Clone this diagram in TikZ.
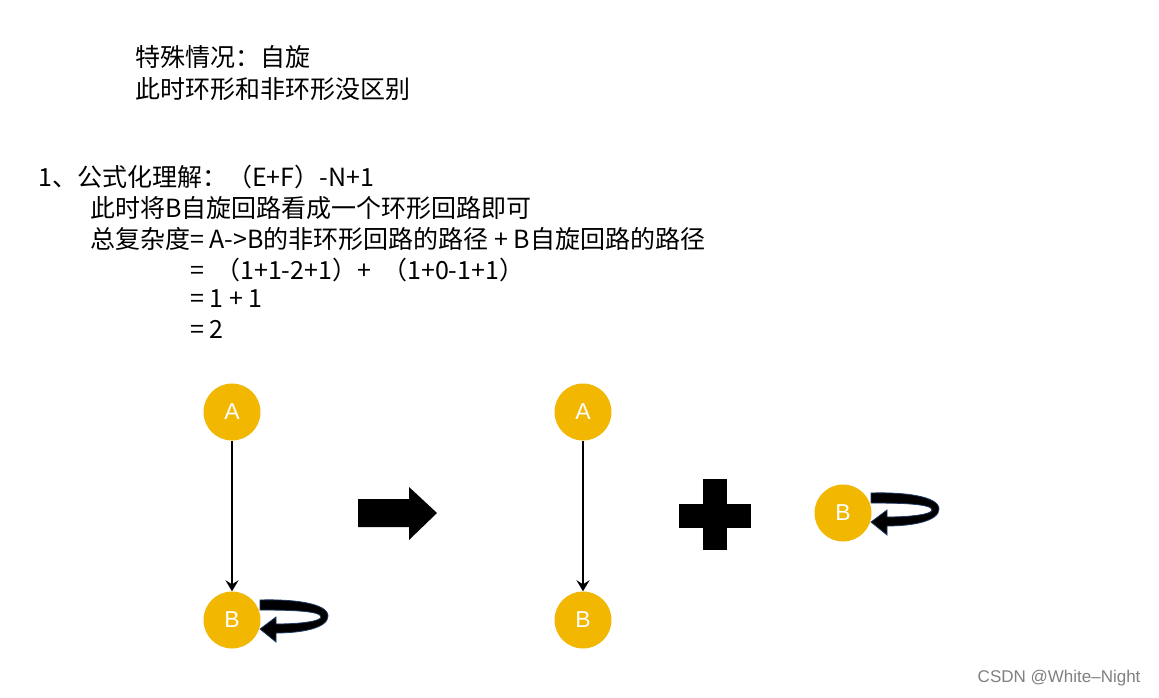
\documentclass[tikz,border=0pt]{standalone}
\usepackage{fontspec}
\setmainfont{Liberation Sans}
\newfontfamily\cjk{Noto Sans CJK SC}
\usetikzlibrary{arrows.meta,calc,positioning}
\definecolor{my_gold}{RGB}{242, 183, 0}
\definecolor{my_navy}{RGB}{31, 56, 100}
\tikzset{
  vnode/.style = {circle, draw=none, fill=my_gold, text=white, minimum size=57pt, inner sep=0pt,
  font=\fontsize{23}{26}\selectfont},
  txt/.style = {anchor=west, inner sep=0pt, font=\fontsize{25}{28}\selectfont\cjk},
  selfloop/.style = {fill=black, draw=my_navy, line width=0.8pt}
}
\newcommand{\loopat}[1]{%
  \fill[selfloop,shift={(#1)}] (28,-20) .. controls (60,-21) and (96,-17) .. (96,-4)
    .. controls (96,8) and (70,13) .. (44,13) -- (44,22) -- (28,9) -- (44,-3) -- (44,4)
    .. controls (70,4) and (89,1) .. (89,-3) .. controls (89,-9) and (60,-10) .. (28,-10) -- cycle;}

\begin{document}
\begin{tikzpicture}[x=1pt,y=-1pt]
  \useasboundingbox[fill=white] (0,0) rectangle (1159,698);
  % text
  \node [txt] (t1) at (135,57) {特殊情况：自旋};
  \node [txt] (t2) at (135,89) {此时环形和非环形没区别};
  \node [txt] (t3) at (38,177) {1、公式化理解：（E+F）-N+1};
  \node [txt] (t4) at (90,208) {此时将B自旋回路看成一个环形回路即可};
  \node [txt] (t5) at (90,239) {总复杂度= A->B的非环形回路的路径 + B自旋回路的路径};
  \node [txt] (t6) at (190,270) {=~~（1+1-2+1）+~~（1+0-1+1）};
  \node [txt] (t7) at (190,299) {= 1 + 1};
  \node [txt] (t8) at (190,329) {= 2};
  % graphs
  \node [vnode] (A1) at (232,412) {A};
  \node [vnode] (B1) at (232,620) {B};
  \node [vnode] (A2) at (583,412) {A};
  \node [vnode] (B2) at (583,620) {B};
  \node [vnode] (B3) at (843,513) {B};
  \draw [-{Stealth[length=11pt,width=13pt,inset=4pt]}, line width=2.2pt] (A1) -- (B1);
  \draw [-{Stealth[length=11pt,width=13pt,inset=4pt]}, line width=2.2pt] (A2) -- (B2);
  \loopat{B1}
  \loopat{B3}
  % big arrow and plus
  \fill (358,499) -- (409,499) -- (409,487) -- (437,513) -- (409,540) -- (409,527) -- (358,527) -- cycle;
  \fill (679,504) rectangle (751,528);
  \fill (703,479) rectangle (727,550);
  \node [anchor=east, text=gray, font=\fontsize{17}{20}\selectfont] (wm) at (1144,678) {CSDN @White–Night};
\end{tikzpicture}
\end{document}
